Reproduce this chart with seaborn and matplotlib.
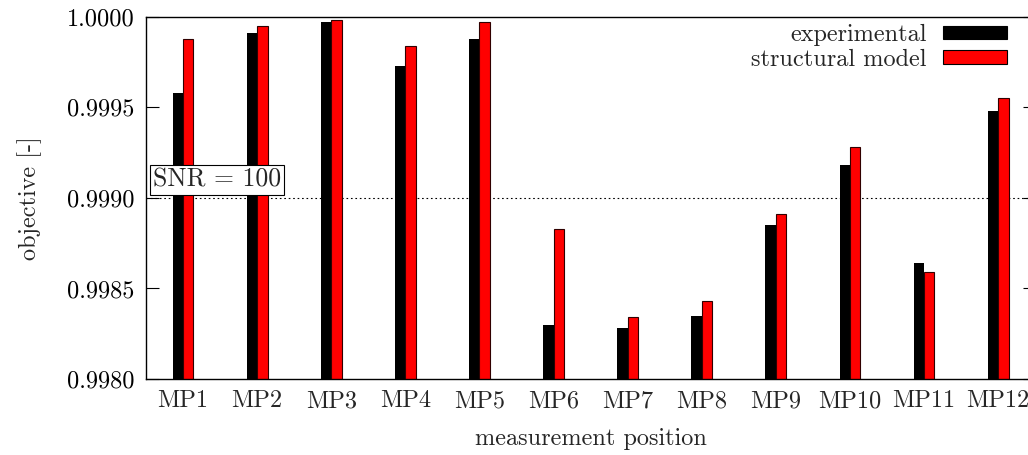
import matplotlib
matplotlib.use("Agg")
import matplotlib.pyplot as plt
import seaborn as sns
import pandas as pd

positions = ["MP1", "MP2", "MP3", "MP4", "MP5", "MP6", "MP7", "MP8", "MP9", "MP10", "MP11", "MP12"]
experimental = [0.99958, 0.99991, 0.99997, 0.99973, 0.99988, 0.99830, 0.99828, 0.99835, 0.99885, 0.99918, 0.99864, 0.99948]
structural = [0.99988, 0.99995, 0.99998, 0.99984, 0.99997, 0.99883, 0.99834, 0.99843, 0.99891, 0.99928, 0.99859, 0.99955]
series_names = ["experimental", "structural model"]
yticks = [0.9980, 0.9985, 0.9990, 0.9995, 1.0000]
snr_level = 0.9990

df = pd.DataFrame({
    "position": positions * 2,
    "value": experimental + structural,
    "series": [series_names[0]] * len(positions) + [series_names[1]] * len(positions),
})

sns.set_theme(style="white")
plt.rcParams["font.family"] = ["cmr10", "DejaVu Serif"]
plt.rcParams["mathtext.fontset"] = "cm"
plt.rcParams["axes.formatter.use_mathtext"] = True

fig = plt.figure(figsize=(10.28, 4.55), dpi=100)
ax = fig.add_axes([0.142, 0.167, 0.865, 0.796])

sns.barplot(data=df, x="position", y="value", hue="series", order=positions,
            hue_order=series_names, palette=["#000000", "#ff0000"],
            width=0.28, dodge=True, ax=ax, saturation=1, linewidth=0)

# thin dark edge on red bars
for p in ax.containers[1]:
    p.set_edgecolor("#300000")
    p.set_linewidth(0.8)

ax.axhline(snr_level, color="black", lw=0.8, linestyle=(0, (1.5, 2.5)), zorder=0)
ax.text(-0.41, 0.99910, "SNR = 100", fontsize=18.5, va="center", ha="left",
        bbox=dict(boxstyle="square,pad=0.12", fc="white", ec="black", lw=0.8))

ax.set_ylim(0.9980, 1.0000)
ax.set_xlim(-0.5, 11.5)
ax.set_yticks(yticks)
ax.set_yticklabels([f"{v:.4f}" for v in yticks])
ax.tick_params(axis="y", direction="in", length=9, width=0.8, left=True, right=True,
               labelsize=17.5, pad=8, colors="black")
ax.tick_params(axis="x", length=0, labelsize=17.5, pad=8)
for s in ax.spines.values():
    s.set_color("black")
    s.set_linewidth(1.0)

ax.set_xlabel("measurement position", fontsize=17.5, labelpad=11)
ax.set_ylabel("objective [-]", fontsize=17.5, labelpad=18)

leg = ax.legend(loc="upper right", frameon=False, markerfirst=False, fontsize=17.5,
                handlelength=2.6, handleheight=0.5, handletextpad=0.7,
                labelspacing=0.1, borderaxespad=0.3, bbox_to_anchor=(0.987, 1.027))
for h in leg.legend_handles:
    h.set_edgecolor("black")
    h.set_linewidth(0.8)

fig.savefig("out.png", dpi=100)
